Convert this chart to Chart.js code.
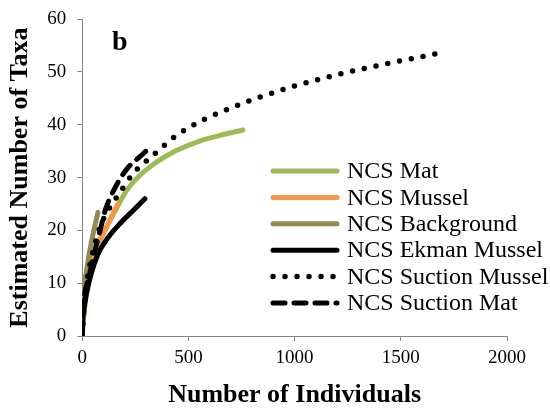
<!DOCTYPE html>
<html>
<head>
<meta charset="utf-8">
<script src="https://cdn.jsdelivr.net/npm/chart.js@4"></script>
<style>
  body { margin: 0; background: #fff; }
  #wrap { width: 550px; height: 410px; position: relative; }
</style>
</head>
<body>
<div id="wrap"><canvas id="chart"></canvas></div>
<script>
// rarefaction curves: [individuals, taxa]
const matN = [0, 10, 30, 60, 100, 130, 169, 208, 271, 349, 443, 553, 662, 757];
const matS = [0, 5, 10.5, 16, 19.4, 21.8, 24.7, 27.5, 30.4, 32.9, 35.1, 36.9, 38.1, 39];

const musselN = [0, 10, 30, 74, 113, 140, 168];
const musselS = [0, 5, 10.5, 17.4, 20.5, 22.8, 25];

const backgroundN = [0, 2, 5, 19, 35, 55, 74];
const backgroundS = [0, 5, 8.5, 12, 16, 20, 23.4];

const ekmanN = [0, 2, 8, 19, 42, 74, 121, 183, 246, 295];
const ekmanS = [0, 2.5, 5, 7.8, 11.7, 15.5, 18.6, 21.5, 24.0, 26.0];

const suctionMusselN = [0, 10, 25, 52, 83, 115, 146, 178, 240, 287, 365, 412, 459, 514, 568, 623, 670, 725, 1007, 1289, 1688];
const suctionMusselS = [0, 6, 11, 16.1, 20.5, 23.3, 25.3, 27.2, 30.8, 32.6, 35.3, 37.0, 38.4, 39.7, 40.9, 41.9, 42.7, 43.6, 47.4, 50.3, 53.6];

const suctionMatN = [0, 5, 19, 35, 50, 82, 110, 154, 208, 287, 318];
const suctionMatS = [0, 5.5, 9.2, 11.7, 14.6, 19.6, 24, 28, 31.5, 34.5, 35.7];

const seriesNames = ["NCS Mat", "NCS Mussel", "NCS Background", "NCS Ekman Mussel", "NCS Suction Mussel", "NCS Suction Mat"];
const xTicks = { min: 0, max: 2000, step: 500 };
const yTicks = { min: 0, max: 60, step: 10 };

const serif = "'Liberation Serif', 'Times New Roman', serif";
const axisGray = "#868686";

function pts(xs, ys) {
  return xs.map((x, i) => ({ x: x, y: ys[i] }));
}

function line(label, xs, ys, color, extra) {
  return Object.assign({
    label: label,
    data: pts(xs, ys),
    borderColor: color,
    backgroundColor: color,
    borderWidth: 5,
    pointRadius: 0,
    fill: false,
    cubicInterpolationMode: "monotone",
    borderCapStyle: "round",
    borderJoinStyle: "round",
  }, extra || {});
}

const datasets = [
  line(seriesNames[0], matN, matS, "#9BBB59", { order: 6 }),
  line(seriesNames[1], musselN, musselS, "#F79646", { order: 5 }),
  line(seriesNames[2], backgroundN, backgroundS, "#948A54", { order: 4 }),
  line(seriesNames[3], ekmanN, ekmanS, "#000000", { order: 3 }),
  line(seriesNames[4], suctionMusselN, suctionMusselS, "#000000", { order: 2, borderDash: [0, 12], borderWidth: 5.5 }),
  line(seriesNames[5], suctionMatN, suctionMatS, "#000000", { order: 1, borderDash: [12, 9] }),
];

// legend sits inside the plot, drawn by hand like the Excel one
const insideLegend = {
  id: "insideLegend",
  afterDraw(chart) {
    const ctx = chart.ctx;
    const x0 = 270, x1 = 340, textX = 347, y0 = 171, rowH = 26.4;
    ctx.save();
    chart.data.datasets.forEach((ds, i) => {
      const y = y0 + i * rowH;
      ctx.beginPath();
      ctx.strokeStyle = ds.borderColor;
      ctx.lineWidth = ds.borderWidth;
      ctx.lineCap = "round";
      ctx.setLineDash(ds.borderDash || []);
      ctx.moveTo(x0 + 3, y);
      ctx.lineTo(x1 - 3, y);
      ctx.stroke();
      ctx.setLineDash([]);
      ctx.fillStyle = "#000";
      ctx.font = "24px " + serif;
      ctx.textBaseline = "middle";
      ctx.textAlign = "left";
      ctx.fillText(ds.label, textX, y + 1);
    });
    // panel letter
    ctx.font = "bold 28px " + serif;
    ctx.textBaseline = "alphabetic";
    ctx.fillText("b", 112, 50);
    ctx.restore();
  },
};

new Chart(document.getElementById("chart"), {
  type: "line",
  data: { datasets: datasets },
  plugins: [insideLegend],
  options: {
    responsive: true,
    maintainAspectRatio: false,
    animation: false,
    layout: { padding: { top: 4, right: 43, left: 1, bottom: -5 } },
    plugins: { legend: { display: false }, tooltip: { enabled: false } },
    scales: {
      x: {
        type: "linear",
        min: xTicks.min,
        max: xTicks.max,
        ticks: { stepSize: xTicks.step, color: "#000", font: { family: serif, size: 19 }, padding: 6, callback: (v) => String(v) },
        grid: { drawOnChartArea: false, drawTicks: true, tickLength: 5, color: axisGray },
        border: { color: axisGray, width: 1 },
        title: { display: true, text: "Number of Individuals", color: "#000", font: { family: serif, size: 26, weight: "bold" }, padding: { top: 4 } },
      },
      y: {
        min: yTicks.min,
        max: yTicks.max,
        ticks: { stepSize: yTicks.step, color: "#000", font: { family: serif, size: 19, lineHeight: 0.85 }, padding: 11, callback: (v) => String(v) },
        grid: { drawOnChartArea: false, drawTicks: true, tickLength: 5, color: axisGray },
        border: { color: axisGray, width: 1 },
        title: { display: true, text: "Estimated Number of Taxa", color: "#000", font: { family: serif, size: 26, weight: "bold" }, padding: { bottom: 0 } },
      },
    },
  },
});
</script>
</body>
</html>
